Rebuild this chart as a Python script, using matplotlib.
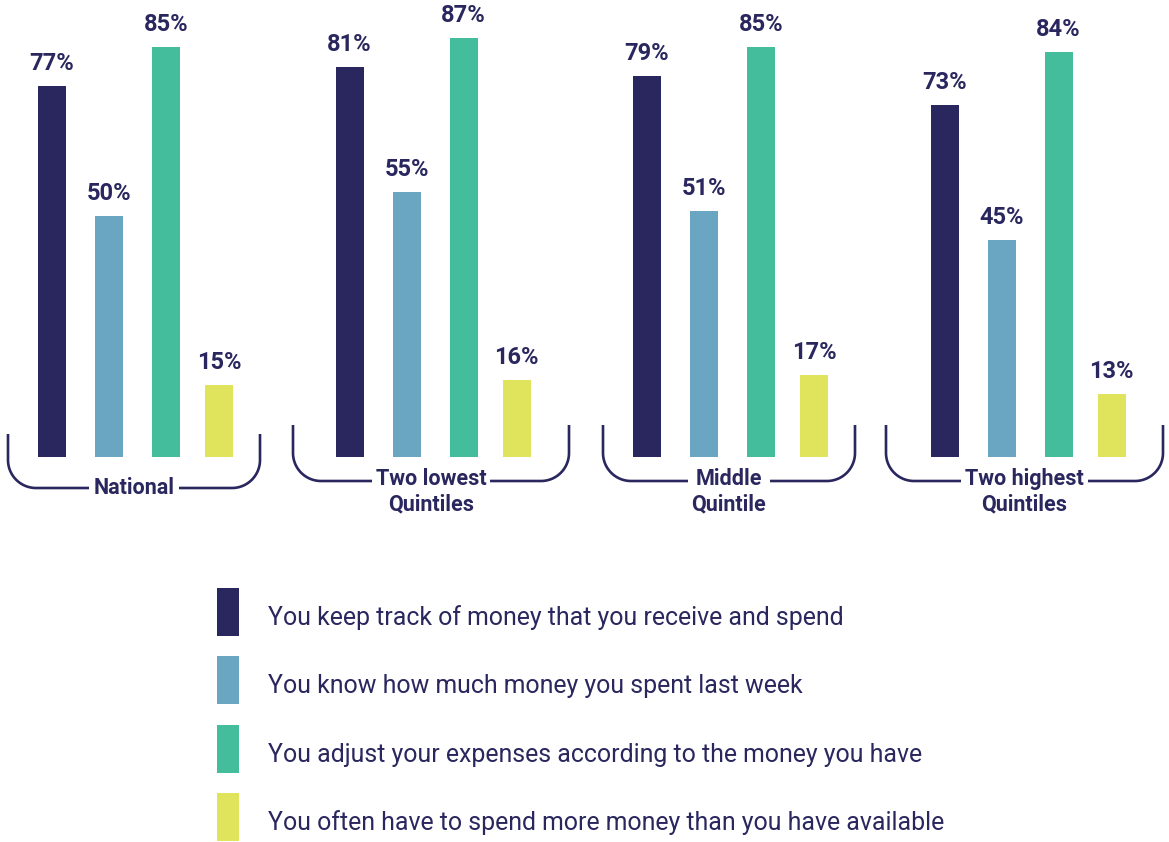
import numpy as np
import matplotlib
matplotlib.use("Agg")
import matplotlib.pyplot as plt
from matplotlib.patches import Rectangle

# ---- data ----
groups = ["National", "Two lowest\nQuintiles", "Middle\nQuintile", "Two highest\nQuintiles"]
series = [
    "You keep track of money that you receive and spend",
    "You know how much money you spent last week",
    "You adjust your expenses according to the money you have",
    "You often have to spend more money than you have available",
]
keep_track = [77, 81, 79, 73]
know_spent = [50, 55, 51, 45]
adjust_exp = [85, 87, 85, 84]
spend_more = [15, 16, 17, 13]
values = [keep_track, know_spent, adjust_exp, spend_more]

# ---- style / layout ----
colors = ["#29275e", "#6aa5c1", "#44bd9c", "#dfe45c"]
navy = "#29275e"
W, H = 1169, 842
font = "Roboto"
baseline_px = 457
px_per_pct = 4.82
first_center = 52
group_step = 297.5
bar_offsets = [0, 57, 114, 167]
bar_w = 28
bracket_left = [8, 293, 603, 886]
bracket_right = [260, 569, 855, 1163]
bracket_top = [434, 425, 425, 425]
bracket_bottom = [488, 481, 481, 481]
radius = 28

fig = plt.figure(figsize=(W / 100, H / 100), dpi=100)

# bar axes: x in pixel units, y in percent
ax = fig.add_axes([0, (H - baseline_px) / H, 1, baseline_px / H])
ax.set_xlim(0, W)
ax.set_ylim(0, baseline_px / px_per_pct)
ax.axis("off")

for si, vals in enumerate(values):
    xs = [first_center + g * group_step + bar_offsets[si] for g in range(len(groups))]
    ax.bar(xs, vals, width=bar_w, color=colors[si], edgecolor="none")
    for x, v in zip(xs, vals):
        ax.annotate(f"{v}%", (x, v), xytext=(0, 11), textcoords="offset pixels",
                    ha="center", va="bottom", fontsize=17, fontweight="bold",
                    color=navy, family=font)

# overlay axes in pixel coordinates for brackets and legend
ov = fig.add_axes([0, 0, 1, 1], zorder=-1)
ov.set_xlim(0, W)
ov.set_ylim(H, 0)
ov.axis("off")

t = np.linspace(0, np.pi / 2, 30)
for g, name in enumerate(groups):
    L, R = bracket_left[g], bracket_right[g]
    top, bot = bracket_top[g], bracket_bottom[g]
    xs = np.concatenate([[L], L + radius - radius * np.cos(t),
                         R - radius + radius * np.sin(t), [R]])
    ys = np.concatenate([[top], bot - radius + radius * np.sin(t),
                         bot - radius + radius * np.cos(t), [top]])
    ov.plot(xs, ys, color=navy, lw=1.9, solid_capstyle="butt")
    cx = (L + R) / 2
    two = "\n" in name
    ov.text(cx, bot - (13 if two else 0), name, ha="center",
            va="top" if two else "center",
            fontsize=15.5, fontweight="bold", color=navy, family=font,
            linespacing=1.22,
            bbox=dict(facecolor="white", edgecolor="none", pad=3))

# legend
leg_x, leg_w, leg_h = 217, 22, 48
leg_tops = [588, 656, 725, 793]
for si, label in enumerate(series):
    ov.add_patch(Rectangle((leg_x, leg_tops[si]), leg_w, leg_h,
                           facecolor=colors[si], edgecolor="none"))
    ov.text(268, leg_tops[si] + leg_h / 2 + 6, label, ha="left", va="center",
            fontsize=17.9, color=navy, family=font)

fig.savefig("out.png", dpi=100, facecolor="white")
